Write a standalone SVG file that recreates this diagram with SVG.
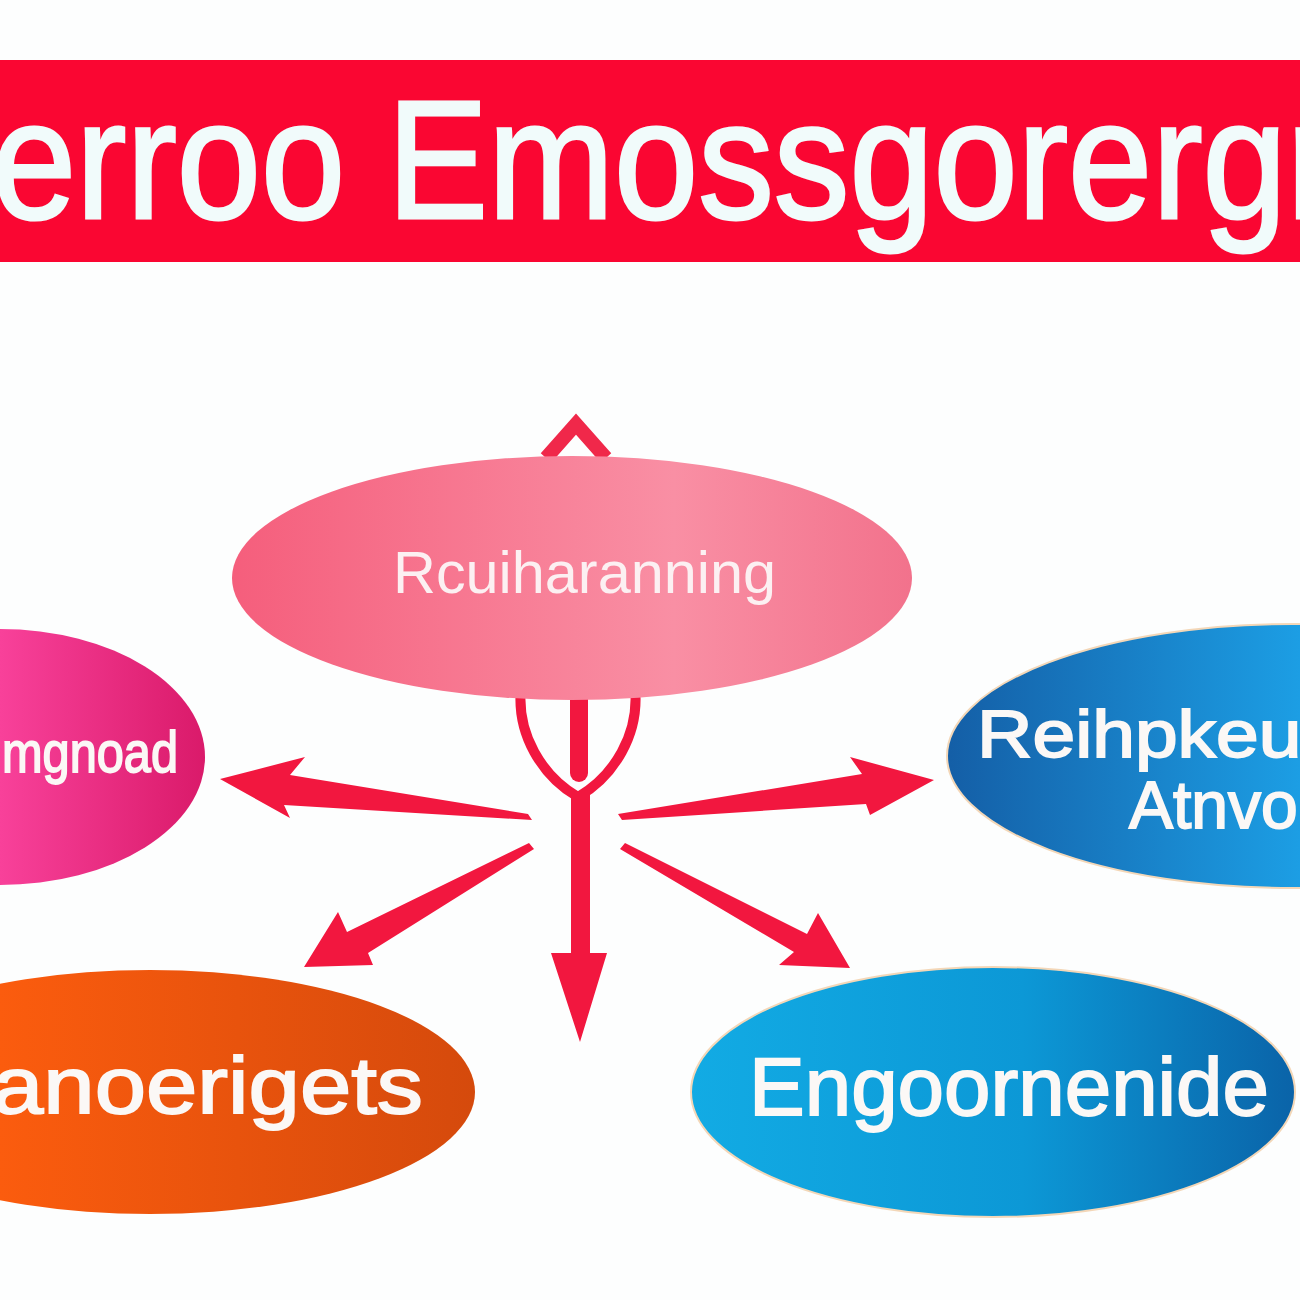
<svg xmlns="http://www.w3.org/2000/svg" width="1300" height="1300" viewBox="0 0 1300 1300">
  <defs>
    <linearGradient id="gPink" gradientUnits="userSpaceOnUse" x1="232" y1="0" x2="912" y2="0">
      <stop offset="0" stop-color="#f55e7c"/>
      <stop offset="0.65" stop-color="#f98fa4"/>
      <stop offset="1" stop-color="#f2728c"/>
    </linearGradient>
    <linearGradient id="gMagenta" gradientUnits="userSpaceOnUse" x1="0" y1="0" x2="205" y2="0">
      <stop offset="0" stop-color="#f8419a"/>
      <stop offset="1" stop-color="#da1a6a"/>
    </linearGradient>
    <linearGradient id="gBlueR" gradientUnits="userSpaceOnUse" x1="945" y1="0" x2="1300" y2="0">
      <stop offset="0" stop-color="#145ea6"/>
      <stop offset="1" stop-color="#1c9ee4"/>
    </linearGradient>
    <linearGradient id="gOrange" gradientUnits="userSpaceOnUse" x1="0" y1="0" x2="475" y2="0">
      <stop offset="0" stop-color="#fb5c0e"/>
      <stop offset="1" stop-color="#d54a0c"/>
    </linearGradient>
    <linearGradient id="gBlueB" gradientUnits="userSpaceOnUse" x1="690" y1="0" x2="1296" y2="0">
      <stop offset="0" stop-color="#12abe4"/>
      <stop offset="0.55" stop-color="#0c98d6"/>
      <stop offset="1" stop-color="#0a63a8"/>
    </linearGradient>
    <style>
      .lbl { font-family: "Liberation Sans", Arial, sans-serif; fill: #fbf8f6; }
      .heavy { stroke: #fbf8f6; stroke-width: 1.8; }
      .arrow { fill: #f2173f; }
      .edge { stroke: #f3d7b8; stroke-width: 2; }
    </style>
  </defs>

  <rect width="1300" height="1300" fill="#fdfefe"/>

  <g id="title">
    <rect x="0" y="60" width="1300" height="202" fill="#fa0632"/>
    <text x="-8" y="218" font-size="168" textLength="1345" lengthAdjust="spacingAndGlyphs" style="font-family:'Liberation Sans', Arial, sans-serif; fill:#f1fbfb; stroke:#f1fbfb; stroke-width:3">erroo Emossgorergr</text>
  </g>

  <g id="connectors">
    <!-- top chevron -->
    <polyline points="546,458 576,424 606,458" fill="none" stroke="#f0284a" stroke-width="14" stroke-linejoin="miter"/>
    <!-- loop below center -->
    <path d="M522,680 C513,735 545,778 578,797 C611,778 643,735 634,680" fill="none" stroke="#f2173f" stroke-width="10"/>
    <rect x="570" y="690" width="18" height="92" rx="9" class="arrow"/>
    <!-- down arrow -->
    <polygon class="arrow" points="571,792 590,792 590,953 607,953 580,1042 551,953 571,953"/>
    <!-- left arrow -->
    <polygon class="arrow" points="220,779 305,757 290,775 528,814 532,820 284,805 290,818"/>
    <!-- right arrow -->
    <polygon class="arrow" points="934,780 870,815 866,804 622,820 618,814 862,774 850,757"/>
    <!-- lower-left arrow -->
    <polygon class="arrow" points="304,967 338,912 347,932 529,843 534,849 368,953 373,965"/>
    <!-- lower-right arrow -->
    <polygon class="arrow" points="850,968 818,913 807,934 625,843 620,849 794,952 779,965"/>
  </g>

  <g id="node-center">
    <ellipse cx="572" cy="578" rx="340" ry="122" fill="url(#gPink)"/>
    <text class="lbl" x="393" y="593" font-size="60" textLength="383" lengthAdjust="spacingAndGlyphs" style="fill:#fcf0f2">Rcuiharanning</text>
  </g>

  <g id="node-left">
    <ellipse cx="0" cy="757" rx="205" ry="128" fill="url(#gMagenta)"/>
    <text class="lbl heavy" x="2" y="772" font-size="58" textLength="176" lengthAdjust="spacingAndGlyphs">mgnoad</text>
  </g>

  <g id="node-right">
    <ellipse class="edge" cx="1292" cy="756" rx="345" ry="132" fill="url(#gBlueR)"/>
    <text class="lbl heavy" x="977" y="757" font-size="66" textLength="350" lengthAdjust="spacingAndGlyphs">Reihpkeur</text>
    <text class="lbl heavy" x="1129" y="828" font-size="66">Atnvo</text>
  </g>

  <g id="node-bottom-left">
    <ellipse cx="150" cy="1092" rx="325" ry="122" fill="url(#gOrange)"/>
    <text class="lbl heavy" x="-8" y="1113" font-size="80" textLength="431" lengthAdjust="spacingAndGlyphs">anoerigets</text>
  </g>

  <g id="node-bottom-right">
    <ellipse class="edge" cx="993" cy="1092" rx="302" ry="125" fill="url(#gBlueB)"/>
    <text class="lbl heavy" x="749" y="1115" font-size="81" textLength="520" lengthAdjust="spacingAndGlyphs">Engoornenide</text>
  </g>
</svg>
